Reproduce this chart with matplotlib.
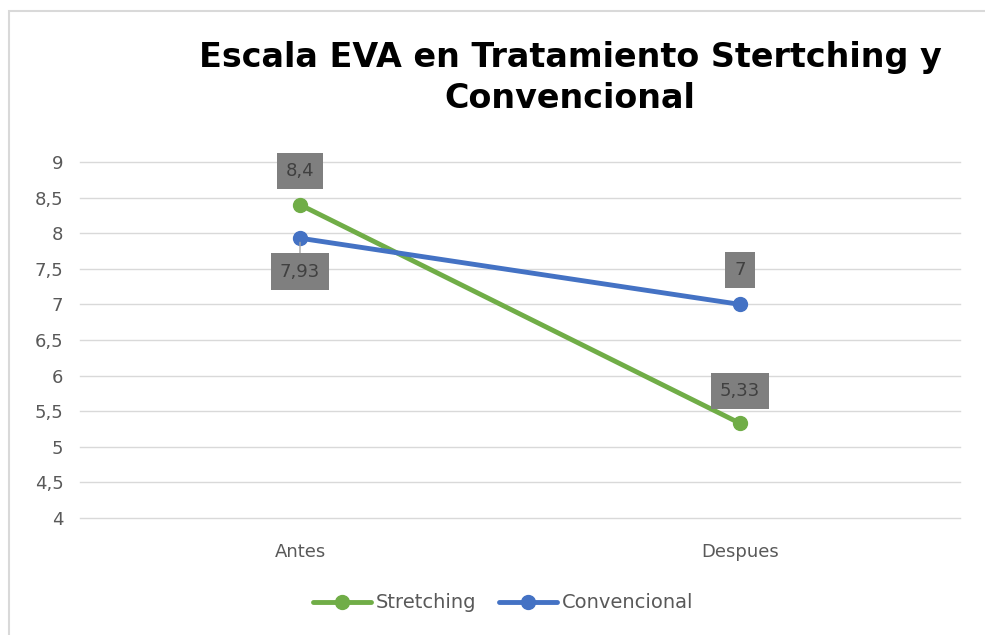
import matplotlib.pyplot as plt
from matplotlib.patches import Rectangle

# Datos
categorias = ["Antes", "Despues"]
stretching = [8.4, 5.33]
convencional = [7.93, 7.0]
titulo = "Escala EVA en Tratamiento Stertching y\nConvencional"

verde = "#70ad47"
azul = "#4472c4"
gris_txt = "#595959"

fig = plt.figure(figsize=(9.85, 6.35), dpi=100)
ax = fig.add_axes([80 / 985, 1 - 518 / 635, 880 / 985, 356 / 635])

# Marco del grafico (borde gris arriba e izquierda)
fig.patches.append(Rectangle((9 / 985, -0.1), 1.2, 1 - 11 / 635 + 0.1,
                             transform=fig.transFigure, fill=False,
                             edgecolor="#d9d9d9", lw=1.5))

x = range(len(categorias))
ax.plot(x, stretching, color=verde, lw=3.5, marker="o", ms=10, label="Stretching",
        solid_capstyle="round", zorder=3)
ax.plot(x, convencional, color=azul, lw=3.5, marker="o", ms=10, label="Convencional",
        solid_capstyle="round", zorder=3)

ax.set_xlim(-0.5, 1.5)
ax.set_ylim(4, 9)
ax.set_yticks([4 + 0.5 * i for i in range(11)])
ax.set_yticklabels([f"{4 + 0.5 * i:g}".replace(".", ",") for i in range(11)])
ax.set_xticks(list(x))
ax.set_xticklabels(categorias)
ax.tick_params(length=0, labelsize=13, colors=gris_txt, pad=12)
ax.tick_params(axis="x", pad=18)
ax.grid(axis="y", color="#d9d9d9", lw=1)
for gl in ax.get_ygridlines():
    gl.set_clip_on(False)
ax.set_axisbelow(True)
for s in ax.spines.values():
    s.set_visible(False)


def etiqueta(xv, yv, dy):
    txt = f"{yv:g}".replace(".", ",")
    ax.annotate(txt, (xv, yv), xytext=(0, dy), textcoords="offset points",
                ha="center", va="center", fontsize=13, color="#404040",
                bbox=dict(boxstyle="square,pad=0.5", fc="#7f7f7f", ec="none"),
                zorder=4)


etiqueta(0, stretching[0], 24)
etiqueta(1, stretching[1], 23)
etiqueta(1, convencional[1], 25)
# etiqueta 7,93 debajo con linea guia
ax.annotate("7,93", (0, convencional[0]), xytext=(0, -24), textcoords="offset points",
            ha="center", va="center", fontsize=13, color="#404040",
            bbox=dict(boxstyle="square,pad=0.5", fc="#7f7f7f", ec="none"),
            arrowprops=dict(arrowstyle="-", color="#a6a6a6", lw=1,
                            shrinkA=0, shrinkB=3),
            zorder=4)

fig.text(570 / 985, 1 - 78 / 635, titulo, ha="center", va="center",
         fontsize=24, fontweight="heavy", family="DejaVu Sans",
         linespacing=1.3, color="black")

leg = fig.legend(loc="center", bbox_to_anchor=(503 / 985, 1 - 603 / 635), ncol=2,
                 frameon=False, fontsize=14, handlelength=3, columnspacing=1.2,
                 handletextpad=0.2)
for t in leg.get_texts():
    t.set_color(gris_txt)

fig.savefig("out.png", dpi=100)
